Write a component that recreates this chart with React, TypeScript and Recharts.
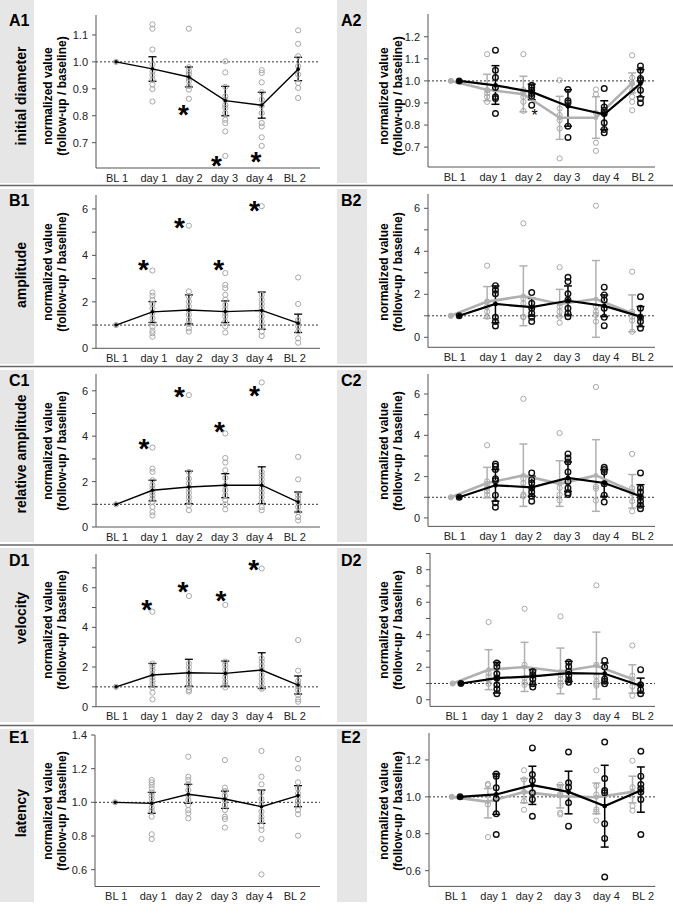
import React from 'react';
import { ComposedChart, Scatter, XAxis, YAxis, ReferenceLine, ErrorBar } from 'recharts';

const FONT = '"Liberation Sans", Arial, Helvetica, sans-serif';
const categories = ['BL 1', 'day 1', 'day 2', 'day 3', 'day 4', 'BL 2'];

// ---------- A1 initial diameter ----------
const a1Pts = [
  [1.0],
  [1.139, 1.123, 1.046, 0.99, 0.965, 0.95, 0.934, 0.916, 0.899, 0.853],
  [1.123, 0.98, 0.965, 0.955, 0.94, 0.928, 0.91, 0.897, 0.863],
  [1.002, 0.961, 0.907, 0.872, 0.86, 0.84, 0.829, 0.81, 0.785, 0.773, 0.742, 0.651],
  [0.969, 0.959, 0.924, 0.887, 0.86, 0.837, 0.81, 0.773, 0.76, 0.72, 0.688],
  [1.117, 1.067, 1.021, 0.984, 0.953, 0.922, 0.903, 0.866],
];
const a1Mean = [1.0, 0.974, 0.944, 0.856, 0.839, 0.973];
const a1Low = [1.0, 0.928, 0.907, 0.8, 0.791, 0.93];
const a1High = [1.0, 1.019, 0.981, 0.909, 0.887, 1.017];
const a1StarIdx = [2, 3, 4];
const a1StarVal = [0.829, 0.638, 0.655];

// ---------- A2 ----------
const a2GreyPts = [
  [1.0],
  [1.121, 0.958, 0.943, 0.928, 0.905],
  [1.121, 0.958, 0.945, 0.928, 0.905, 0.864],
  [1.003, 0.875, 0.845, 0.822, 0.784, 0.649],
  [0.961, 0.94, 0.855, 0.72, 0.683],
  [1.116, 1.015, 0.988, 0.958, 0.928, 0.905, 0.867],
];
const a2GreyMean = [1.0, 0.96, 0.94, 0.833, 0.833, 0.99];
const a2GreyLow = [1.0, 0.91, 0.86, 0.735, 0.74, 0.945];
const a2GreyHigh = [1.0, 1.03, 1.021, 0.93, 0.928, 1.036];
const a2BlackPts = [
  [1.0],
  [1.139, 1.048, 1.015, 0.97, 0.928, 0.92, 0.852],
  [0.98, 0.97, 0.958, 0.943, 0.93, 0.89],
  [0.961, 0.91, 0.9, 0.795, 0.744],
  [0.965, 0.882, 0.867, 0.852, 0.81, 0.78, 0.765],
  [1.068, 1.048, 1.011, 1.003, 0.958, 0.92, 0.9],
];
const a2BlackMean = [1.0, 0.98, 0.95, 0.885, 0.849, 0.988];
const a2BlackLow = [1.0, 0.894, 0.915, 0.795, 0.78, 0.928];
const a2BlackHigh = [1.0, 1.069, 0.985, 0.96, 0.91, 1.051];
const a2StarIdx = [2];
const a2StarVal = [0.86];

// ---------- B1 amplitude ----------
const b1Pts = [
  [1.0],
  [3.35, 2.4, 2.26, 2.08, 1.91, 1.72, 1.51, 1.29, 1.11, 0.93, 0.76, 0.65, 0.5],
  [5.28, 2.45, 2.23, 2.01, 1.8, 1.63, 1.44, 1.22, 1.05, 0.86, 0.72],
  [3.24, 2.73, 2.59, 2.3, 2.09, 1.87, 1.68, 1.51, 1.37, 1.15, 0.94, 0.68],
  [6.12, 2.3, 2.09, 1.91, 1.73, 1.58, 1.37, 1.15, 0.94, 0.72, 0.53],
  [3.05, 1.91, 1.22, 1.08, 0.94, 0.72, 0.43, 0.24],
];
const b1Mean = [1.0, 1.57, 1.65, 1.58, 1.63, 1.08];
const b1Low = [1.0, 1.11, 1.05, 1.11, 0.82, 0.68];
const b1High = [1.0, 2.01, 2.3, 2.04, 2.42, 1.47];
const b1StarIdx = [1, 2, 3, 4];
const b1StarVal = [3.67, 5.5, 3.67, 6.23];

// ---------- B2 ----------
const b2GreyPts = [
  [1.0],
  [3.33, 1.66, 1.43, 1.19, 0.96],
  [5.3, 1.81, 1.58, 0.96, 0.93],
  [3.26, 1.43, 1.19, 0.96, 0.68],
  [6.12, 1.43, 1.19, 1.04, 0.73],
  [3.05, 1.19, 0.96, 0.78, 0.26],
];
const b2GreyMean = [1.0, 1.66, 1.92, 1.55, 1.78, 1.12];
const b2GreyLow = [1.0, 0.88, 0.54, 0.96, 0.0, 0.26];
const b2GreyHigh = [1.0, 2.36, 3.32, 2.23, 3.57, 1.97];
const b2BlackPts = [
  [1.0],
  [2.4, 2.2, 2.02, 0.93, 0.73, 0.53],
  [2.08, 1.58, 1.35, 1.12, 0.93, 0.73],
  [2.79, 2.59, 2.02, 1.74, 1.35, 1.12, 0.96],
  [2.33, 1.97, 1.74, 1.35, 0.93, 0.54],
  [1.89, 1.35, 0.93, 0.73, 0.42],
];
const b2BlackMean = [1.0, 1.55, 1.4, 1.7, 1.46, 0.96];
const b2BlackLow = [1.0, 0.68, 0.99, 1.04, 0.96, 0.5];
const b2BlackHigh = [1.0, 2.39, 1.81, 2.39, 1.97, 1.43];

// ---------- C1 relative amplitude ----------
const c1Pts = [
  [1.0],
  [3.5, 2.57, 2.43, 2.06, 1.84, 1.69, 1.54, 1.4, 1.25, 1.1, 0.88, 0.66, 0.51],
  [5.81, 2.43, 2.13, 1.91, 1.69, 1.51, 1.32, 1.13, 0.96, 0.74],
  [4.12, 3.04, 2.84, 2.5, 2.16, 1.84, 1.62, 1.4, 1.18, 1.0, 0.78],
  [6.37, 2.43, 2.28, 2.1, 1.91, 1.69, 1.51, 1.32, 1.1, 0.88, 0.74],
  [3.09, 2.1, 1.4, 1.25, 1.1, 0.88, 0.66, 0.44, 0.29],
];
const c1Mean = [1.0, 1.62, 1.76, 1.84, 1.84, 1.1];
const c1Low = [1.0, 1.15, 1.03, 1.29, 1.03, 0.66];
const c1High = [1.0, 2.06, 2.46, 2.35, 2.65, 1.54];
const c1StarIdx = [1, 2, 3, 4];
const c1StarVal = [3.75, 6.03, 4.49, 6.1];

// ---------- C2 ----------
const c2GreyPts = [
  [1.0],
  [3.52, 1.77, 1.61, 1.45, 1.29, 1.13],
  [5.77, 1.9, 1.69, 1.13, 1.05],
  [4.11, 1.69, 1.45, 1.13, 0.85],
  [6.34, 1.53, 1.42, 0.84],
  [3.1, 1.45, 1.21, 0.81, 0.32],
];
const c2GreyMean = [1.0, 1.69, 2.06, 1.65, 2.06, 1.29];
const c2GreyLow = [1.0, 0.97, 0.56, 0.56, 0.32, 0.48];
const c2GreyHigh = [1.0, 2.45, 3.58, 2.77, 3.79, 2.1];
const c2BlackPts = [
  [1.0],
  [2.61, 2.5, 2.34, 1.9, 1.81, 1.1, 0.73, 0.52],
  [2.18, 1.85, 1.69, 1.45, 1.26, 1.05, 0.81],
  [3.1, 2.9, 2.71, 2.23, 1.77, 1.45, 1.21, 1.13],
  [2.45, 2.34, 2.23, 1.65, 1.1, 0.77],
  [2.18, 1.45, 1.26, 1.0, 0.81, 0.61, 0.45],
];
const c2BlackMean = [1.0, 1.58, 1.48, 1.94, 1.69, 1.05];
const c2BlackLow = [1.0, 0.81, 1.05, 1.29, 1.05, 0.56];
const c2BlackHigh = [1.0, 2.34, 2.02, 2.71, 2.34, 1.61];

// ---------- D1 velocity ----------
const d1Pts = [
  [1.0],
  [4.79, 2.18, 2.02, 1.85, 1.65, 1.48, 1.31, 1.14, 0.97, 0.71, 0.37],
  [5.58, 2.18, 1.98, 1.76, 1.55, 1.34, 1.14, 0.97, 0.84, 0.76],
  [5.13, 2.27, 2.1, 1.88, 1.68, 1.48, 1.26, 1.09, 0.97],
  [6.97, 2.44, 2.27, 2.05, 1.85, 1.6, 1.38, 1.18, 0.97, 0.9],
  [3.36, 1.82, 1.31, 1.14, 1.01, 0.84, 0.59, 0.37, 0.25],
];
const d1Mean = [1.0, 1.6, 1.71, 1.68, 1.85, 1.09];
const d1Low = [1.0, 1.01, 1.04, 1.04, 0.92, 0.64];
const d1High = [1.0, 2.18, 2.39, 2.3, 2.72, 1.55];
const d1StarIdx = [1, 2, 3, 4];
const d1StarVal = [5.24, 6.13, 5.68, 7.26];

// ---------- D2 ----------
const d2GreyPts = [
  [1.0],
  [4.78, 1.64, 1.44, 1.19, 0.98],
  [5.6, 2.15, 1.33, 1.07, 0.92],
  [5.13, 1.54, 1.27, 1.03, 0.86],
  [7.04, 2.15, 1.44, 1.13, 0.98, 0.86],
  [3.34, 1.48, 1.19, 0.82, 0.25],
];
const d2GreyMean = [1.0, 1.85, 2.01, 1.74, 2.09, 1.27];
const d2GreyLow = [1.0, 0.62, 0.51, 0.37, 0.04, 0.41];
const d2GreyHigh = [1.0, 3.08, 3.53, 3.18, 4.16, 2.15];
const d2BlackPts = [
  [1.0],
  [2.26, 2.05, 1.6, 1.33, 0.92, 0.66, 0.37],
  [1.74, 1.54, 1.27, 0.98, 0.78],
  [2.3, 2.05, 1.74, 1.48, 1.23, 1.07],
  [2.42, 2.01, 1.27, 1.13, 0.98],
  [1.85, 0.92, 0.62, 0.37],
];
const d2BlackMean = [1.0, 1.33, 1.44, 1.64, 1.6, 0.86];
const d2BlackLow = [1.0, 0.41, 0.92, 1.13, 1.03, 0.41];
const d2BlackHigh = [1.0, 2.3, 1.85, 2.36, 2.26, 1.33];

// ---------- E1 latency ----------
const e1Pts = [
  [1.0],
  [1.133, 1.119, 1.103, 1.083, 1.059, 1.04, 1.02, 0.994, 0.968, 0.949, 0.915, 0.81, 0.782],
  [1.271, 1.152, 1.133, 1.107, 1.073, 1.04, 1.014, 0.984, 0.954, 0.935, 0.905],
  [1.251, 1.087, 1.067, 1.04, 1.014, 0.984, 0.954, 0.915, 0.901, 0.85],
  [1.305, 1.152, 1.107, 1.059, 1.02, 0.984, 0.945, 0.915, 0.895, 0.861, 0.836, 0.782, 0.572],
  [1.257, 1.202, 1.119, 1.083, 1.053, 1.034, 1.008, 0.984, 0.954, 0.929, 0.802],
];
const e1Mean = [1.0, 0.994, 1.048, 1.02, 0.974, 1.04];
const e1Low = [1.0, 0.935, 0.994, 0.964, 0.875, 0.974];
const e1High = [1.0, 1.059, 1.107, 1.067, 1.073, 1.099];

// ---------- E2 ----------
const e2GreyPts = [
  [1.0],
  [1.07, 1.063, 0.959, 0.782],
  [1.144, 1.094, 1.027, 0.977, 0.93],
  [1.066, 1.055, 1.016, 1.009, 0.914, 0.905],
  [1.144, 1.06, 1.013, 0.932, 0.919, 0.872],
  [1.196, 1.052, 1.027, 0.95, 0.926],
];
const e2GreyMean = [1.0, 0.973, 1.027, 1.004, 0.998, 1.027];
const e2GreyLow = [1.0, 0.886, 0.968, 0.94, 0.908, 0.968];
const e2GreyHigh = [1.0, 1.045, 1.099, 1.065, 1.075, 1.112];
const e2BlackPts = [
  [1.0],
  [1.124, 1.112, 1.049, 0.991, 0.908, 0.796],
  [1.265, 1.121, 1.088, 1.022, 0.986, 0.895],
  [1.243, 1.076, 1.052, 0.968, 0.841],
  [1.297, 1.099, 1.034, 1.022, 0.854, 0.775, 0.566],
  [1.247, 1.112, 1.067, 1.045, 1.027, 0.986, 0.796],
];
const e2BlackMean = [1.0, 1.013, 1.063, 1.027, 0.95, 1.034];
const e2BlackLow = [1.0, 0.905, 0.959, 0.908, 0.728, 0.917];
const e2BlackHigh = [1.0, 1.124, 1.166, 1.139, 1.171, 1.162];

// ---------- helpers ----------
type Group = { pts: number[][]; mean: number[]; low: number[]; high: number[] };
type Stars = { idx: number[]; val: number[]; off: number[]; big: boolean };

const toPoints = (pts: number[][], off: number) =>
  pts.flatMap((vals, i) => vals.map((v) => ({ x: i + off, y: v })));
const toMeans = (g: Group, off: number) =>
  g.mean.map((m, i) => ({ x: i + off, y: m, err: [m - g.low[i], g.high[i] - m] }));

const GREY = '#a8a8a8';
const GREY_LINE = '#b0b0b0';

const greyCircle = (p: any) => (
  <circle cx={p.cx} cy={p.cy} r={2.6} fill="none" stroke={GREY} strokeWidth={1} />
);
const blackCircle = (p: any) => (
  <circle cx={p.cx} cy={p.cy} r={2.8} fill="none" stroke="#111" strokeWidth={1.4} />
);
const dotShape = (color: string, r: number) => (p: any) => (
  <circle cx={p.cx} cy={p.cy} r={r} fill={color} stroke="none" />
);
const noShape = () => <g />;
const bigStar = (p: any) => (
  <text x={p.cx} y={p.cy + 16} textAnchor="middle" fontSize={28} fontWeight="bold" fontFamily={FONT} fill="#000">*</text>
);
const smallStar = (p: any) => (
  <text x={p.cx} y={p.cy + 9} textAnchor="middle" fontSize={16} fontFamily={FONT} fill="#000">*</text>
);

type PanelCfg = {
  x0: number; x1: number; y0: number; y1: number;
  yDomain: [number, number]; yTicks: number[]; yMajor: number[]; decimals: number;
  xDomain: [number, number]; xTicks: number[];
  single?: Group; grey?: Group; black?: Group; stars?: Stars;
};

function Panel({ c }: { c: PanelCfg }) {
  const left = c.x0 - 40;
  const top = c.y0 - 8;
  const width = c.x1 - left + 8;
  const height = c.y1 - top + 24;
  const items: any[] = [];
  items.push(
    <ReferenceLine key="ref" y={1} stroke="#333" strokeWidth={1} strokeDasharray="2 2" ifOverflow="visible" />
  );
  if (c.single) {
    const m = toMeans(c.single, 0);
    items.push(<Scatter key="sp" data={toPoints(c.single.pts, 0)} shape={greyCircle} isAnimationActive={false} />);
    items.push(
      <Scatter key="sm" data={m} fill="#000" line={{ stroke: '#000', strokeWidth: 1.4 }} shape={dotShape('#000', 1.8)} isAnimationActive={false} />
    );
    items.push(
      <Scatter key="se" data={m.slice(1)} shape={noShape} isAnimationActive={false}>
        <ErrorBar dataKey="err" direction="y" width={4} stroke="#000" strokeWidth={1.3} isAnimationActive={false} />
      </Scatter>
    );
  }
  if (c.grey && c.black) {
    const go = -0.11;
    const bo = 0.12;
    const gm = toMeans(c.grey, go);
    const bm = toMeans(c.black, bo);
    items.push(<Scatter key="gp" data={toPoints(c.grey.pts, go)} shape={greyCircle} isAnimationActive={false} />);
    items.push(
      <Scatter key="gm" data={gm} fill={GREY_LINE} line={{ stroke: GREY_LINE, strokeWidth: 2.6 }} shape={dotShape(GREY_LINE, 2.4)} isAnimationActive={false} />
    );
    items.push(
      <Scatter key="ge" data={gm.slice(1)} shape={noShape} isAnimationActive={false}>
        <ErrorBar dataKey="err" direction="y" width={4} stroke={GREY_LINE} strokeWidth={1.5} isAnimationActive={false} />
      </Scatter>
    );
    items.push(<Scatter key="bp" data={toPoints(c.black.pts, bo)} shape={blackCircle} isAnimationActive={false} />);
    items.push(
      <Scatter key="bm" data={bm} fill="#000" line={{ stroke: '#000', strokeWidth: 2.2 }} shape={dotShape('#000', 2.4)} isAnimationActive={false} />
    );
    items.push(
      <Scatter key="be" data={bm.slice(1)} shape={noShape} isAnimationActive={false}>
        <ErrorBar dataKey="err" direction="y" width={4} stroke="#000" strokeWidth={1.5} isAnimationActive={false} />
      </Scatter>
    );
  }
  if (c.stars) {
    const s = c.stars;
    const data = s.idx.map((i, k) => ({ x: i + s.off[k], y: s.val[k] }));
    items.push(
      <Scatter key="st" data={data} shape={s.big ? bigStar : smallStar} isAnimationActive={false} />
    );
  }
  return (
    <div style={{ position: 'absolute', left, top }}>
      <ComposedChart width={width} height={height} margin={{ top: 8, right: 8, bottom: 0, left: 0 }}>
        <XAxis
          type="number"
          dataKey="x"
          domain={c.xDomain}
          ticks={c.xTicks}
          interval={0}
          allowDataOverflow
          tickFormatter={(v: number) => categories[Math.round(v)]}
          tickLine={false}
          tickSize={4}
          height={24}
          axisLine={{ stroke: '#555', strokeWidth: 1 }}
          tick={{ fontSize: 11, fill: '#222', fontFamily: FONT }}
        />
        <YAxis
          type="number"
          dataKey="y"
          domain={c.yDomain}
          ticks={c.yTicks}
          interval={0}
          allowDataOverflow
          width={40}
          tickSize={4}
          tickMargin={4}
          tickFormatter={(v: number) =>
            c.yMajor.some((m) => Math.abs(m - v) < 1e-9) ? v.toFixed(c.decimals) : ''
          }
          axisLine={{ stroke: '#555', strokeWidth: 1 }}
          tickLine={{ stroke: '#555', strokeWidth: 1 }}
          tick={{ fontSize: 11, fill: '#222', fontFamily: FONT }}
        />
        {items}
      </ComposedChart>
    </div>
  );
}

const LX: [number, number] = [-0.55, 5.6];
const RX: [number, number] = [-0.74, 5.52];
const LT = [0.03, 1.04, 2.01, 2.98, 3.94, 4.91];
const RT = [0, 1.05, 2.03, 3.09, 4.17, 5.18];
const int7 = [0, 1, 2, 3, 4, 5, 6];
const even6 = [0, 2, 4, 6];

const panels: PanelCfg[] = [
  {
    x0: 96, x1: 320, y0: 15, y1: 168, yDomain: [0.606, 1.174],
    yTicks: [0.7, 0.8, 0.9, 1.0, 1.1], yMajor: [0.7, 0.8, 0.9, 1.0, 1.1], decimals: 1, xDomain: LX, xTicks: LT,
    single: { pts: a1Pts, mean: a1Mean, low: a1Low, high: a1High },
    stars: { idx: a1StarIdx, val: a1StarVal, off: [-0.15, -0.24, -0.16], big: true },
  },
  {
    x0: 428, x1: 655, y0: 14, y1: 167, yDomain: [0.61, 1.303],
    yTicks: [0.7, 0.8, 0.9, 1.0, 1.1, 1.2], yMajor: [0.7, 0.8, 0.9, 1.0, 1.1, 1.2], decimals: 1, xDomain: RX, xTicks: RT,
    grey: { pts: a2GreyPts, mean: a2GreyMean, low: a2GreyLow, high: a2GreyHigh },
    black: { pts: a2BlackPts, mean: a2BlackMean, low: a2BlackLow, high: a2BlackHigh },
    stars: { idx: a2StarIdx, val: a2StarVal, off: [0.2], big: false },
  },
  {
    x0: 96, x1: 320, y0: 195, y1: 348.3, yDomain: [0, 6.6],
    yTicks: int7, yMajor: even6, decimals: 0, xDomain: LX, xTicks: LT,
    single: { pts: b1Pts, mean: b1Mean, low: b1Low, high: b1High },
    stars: { idx: b1StarIdx, val: b1StarVal, off: [-0.25, -0.26, -0.18, -0.2], big: true },
  },
  {
    x0: 428, x1: 655, y0: 194, y1: 347.3, yDomain: [-0.465, 6.665],
    yTicks: int7, yMajor: even6, decimals: 0, xDomain: RX, xTicks: RT,
    grey: { pts: b2GreyPts, mean: b2GreyMean, low: b2GreyLow, high: b2GreyHigh },
    black: { pts: b2BlackPts, mean: b2BlackMean, low: b2BlackLow, high: b2BlackHigh },
  },
  {
    x0: 96, x1: 320, y0: 374, y1: 527, yDomain: [0, 6.74],
    yTicks: int7, yMajor: even6, decimals: 0, xDomain: LX, xTicks: LT,
    single: { pts: c1Pts, mean: c1Mean, low: c1Low, high: c1High },
    stars: { idx: c1StarIdx, val: c1StarVal, off: [-0.23, -0.26, -0.16, -0.2], big: true },
  },
  {
    x0: 428, x1: 655, y0: 374.3, y1: 526.7, yDomain: [-0.41, 6.97],
    yTicks: int7, yMajor: even6, decimals: 0, xDomain: RX, xTicks: RT,
    grey: { pts: c2GreyPts, mean: c2GreyMean, low: c2GreyLow, high: c2GreyHigh },
    black: { pts: c2BlackPts, mean: c2BlackMean, low: c2BlackLow, high: c2BlackHigh },
  },
  {
    x0: 96, x1: 320, y0: 554, y1: 706.7, yDomain: [0, 7.7],
    yTicks: [0, 1, 2, 3, 4, 5, 6, 7], yMajor: even6, decimals: 0, xDomain: LX, xTicks: LT,
    single: { pts: d1Pts, mean: d1Mean, low: d1Low, high: d1High },
    stars: { idx: d1StarIdx, val: d1StarVal, off: [-0.16, -0.16, -0.12, -0.22], big: true },
  },
  {
    x0: 430, x1: 655, y0: 553.3, y1: 706.7, yDomain: [-0.41, 9.03],
    yTicks: [0, 1, 2, 3, 4, 5, 6, 7, 8, 9], yMajor: [0, 2, 4, 6, 8], decimals: 0, xDomain: RX, xTicks: RT,
    grey: { pts: d2GreyPts, mean: d2GreyMean, low: d2GreyLow, high: d2GreyHigh },
    black: { pts: d2BlackPts, mean: d2BlackMean, low: d2BlackLow, high: d2BlackHigh },
  },
  {
    x0: 95, x1: 320, y0: 735, y1: 886.5, yDomain: [0.5, 1.4],
    yTicks: [0.6, 0.8, 1.0, 1.2, 1.4], yMajor: [0.6, 0.8, 1.0, 1.2, 1.4], decimals: 1, xDomain: LX, xTicks: LT,
    single: { pts: e1Pts, mean: e1Mean, low: e1Low, high: e1High },
  },
  {
    x0: 428.7, x1: 655, y0: 733.3, y1: 886.7, yDomain: [0.515, 1.346],
    yTicks: [0.6, 0.8, 1.0, 1.2], yMajor: [0.6, 0.8, 1.0, 1.2], decimals: 1, xDomain: RX, xTicks: RT,
    grey: { pts: e2GreyPts, mean: e2GreyMean, low: e2GreyLow, high: e2GreyHigh },
    black: { pts: e2BlackPts, mean: e2BlackMean, low: e2BlackLow, high: e2BlackHigh },
  },
];

const rowLetters = ['A', 'B', 'C', 'D', 'E'];
const rowNames = ['initial diameter', 'amplitude', 'relative amplitude', 'velocity', 'latency'];
const bands: [number, number][] = [[0, 183], [189, 364], [370, 542], [548, 722], [729, 902]];
const letterY = [20.5, 200, 380.5, 560.5, 737.5];
const nameY = [96, 275, 454, 618, 813];
const ylabY = [96, 272, 451, 630, 811];
const separators = [185.5, 366.5, 545, 725.5];

export default function App() {
  return (
    <div style={{ position: 'absolute', left: 0, top: 0, width: 673, height: 913, background: '#fff', overflow: 'hidden' }}>
      <svg width={673} height={913} style={{ position: 'absolute', left: 0, top: 0 }}>
        {bands.map(([a, b], i) => (
          <g key={'b' + i}>
            <rect x={0} y={a} width={34} height={b - a} fill="#e6e6e6" />
            <rect x={337} y={a} width={30} height={b - a} fill="#e6e6e6" />
          </g>
        ))}
        {separators.map((y, i) => (
          <line key={'s' + i} x1={0} x2={673} y1={y} y2={y} stroke="#666" strokeWidth={1.6} />
        ))}
        {rowLetters.map((L, i) => (
          <g key={'l' + i} fontFamily={FONT} fontWeight="bold" fontSize={16} fill="#000">
            <text x={9} y={letterY[i]} dominantBaseline="central">{L + '1'}</text>
            <text x={341} y={letterY[i]} dominantBaseline="central">{L + '2'}</text>
          </g>
        ))}
        {rowNames.map((n, i) => (
          <text
            key={'n' + i}
            transform={`translate(21,${nameY[i]}) rotate(-90)`}
            textAnchor="middle"
            dominantBaseline="central"
            fontFamily={FONT}
            fontWeight="bold"
            fontSize={14}
            fill="#000"
          >
            {n}
          </text>
        ))}
        {ylabY.map((y, i) => (
          <g key={'y' + i} fontFamily={FONT} fontWeight="bold" fontSize={12} fill="#000" textAnchor="middle">
            <text transform={`translate(48,${y}) rotate(-90)`} dominantBaseline="central">normalized value</text>
            <text transform={`translate(61.5,${y}) rotate(-90)`} dominantBaseline="central">(follow-up / baseline)</text>
            <text transform={`translate(384,${y}) rotate(-90)`} dominantBaseline="central">normalized value</text>
            <text transform={`translate(398,${y}) rotate(-90)`} dominantBaseline="central">(follow-up / baseline)</text>
          </g>
        ))}
      </svg>
      {panels.map((c, i) => (
        <Panel key={i} c={c} />
      ))}
    </div>
  );
}
